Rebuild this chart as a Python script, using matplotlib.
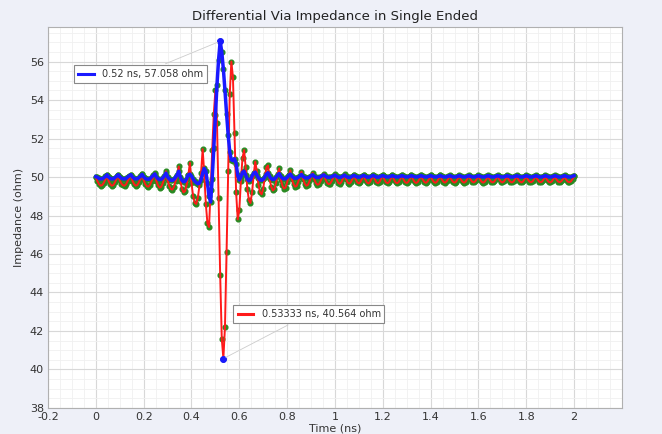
import numpy as np
import matplotlib
matplotlib.use("Agg")
import matplotlib.pyplot as plt
from matplotlib.lines import Line2D
from matplotlib.offsetbox import AnnotationBbox, DrawingArea, TextArea, HPacker

# sample spacing of the TDR trace (ns)
dt = 1 / 150

# single ended impedance, trace 1 (red)
z_red = [
    50.00, 49.78, 49.63, 49.55, 49.58, 49.70, 49.88,
    50.10, 49.80, 49.63, 49.55, 49.58, 49.72, 49.91,
    50.10, 49.83, 49.66, 49.57, 49.55, 49.63, 49.80, 49.96,
    50.10, 49.80, 49.63, 49.55, 49.58, 49.72, 49.91,
    50.15, 49.83, 49.63, 49.52, 49.50, 49.60, 49.79, 49.99,
    50.20, 49.79, 49.56, 49.45, 49.49, 49.68, 49.94,
    50.30, 49.83, 49.54, 49.38, 49.35, 49.49, 49.78, 50.06,
    50.55, 49.81, 49.40, 49.20, 49.27, 49.61, 50.08,
    50.75, 49.68, 49.03, 48.66, 48.60, 48.92, 49.57, 50.21,
    51.45, 50.20, 48.60, 47.60, 47.40, 49.30, 51.40, 53.30,
    54.50, 52.80, 48.90, 44.90, 41.60, 40.564, 42.20, 46.10, 50.30, 54.30,
    56.00, 55.20, 52.30, 49.20, 47.80, 48.30, 49.80, 51.00, 51.40, 50.50,
    49.40, 48.80, 48.65, 49.20, 50.10, 50.80, 50.30, 49.60, 49.20, 49.10,
    49.40, 50.00, 50.50,
    50.60, 49.89, 49.50, 49.30, 49.37, 49.69, 50.15,
    50.45, 49.87, 49.56, 49.40, 49.45, 49.72, 50.08,
    50.35, 49.88, 49.63, 49.50, 49.54, 49.76, 50.05,
    50.28, 49.88, 49.66, 49.55, 49.59, 49.77, 50.02,
    50.22, 49.88, 49.69, 49.60, 49.63, 49.79, 50.00,
    50.18, 49.88, 49.71, 49.63, 49.66, 49.80, 49.99,
    50.15, 49.88, 49.70, 49.65, 49.73, 49.93,
    50.14, 49.88, 49.71, 49.66, 49.73, 49.92,
    50.13, 49.88, 49.72, 49.67, 49.74, 49.92,
    50.12, 49.87, 49.72, 49.67, 49.74, 49.92,
    50.12, 49.88, 49.72, 49.68, 49.75, 49.92,
    50.11, 49.87, 49.72, 49.68, 49.74, 49.92,
    50.10, 49.87, 49.72, 49.68, 49.74, 49.91,
    50.10, 49.87, 49.73, 49.69, 49.75, 49.92,
    50.09, 49.87, 49.73, 49.69, 49.75, 49.91,
    50.09, 49.88, 49.74, 49.70, 49.76, 49.91,
    50.08, 49.87, 49.74, 49.70, 49.76, 49.91,
    50.08, 49.88, 49.75, 49.71, 49.77, 49.91,
    50.07, 49.87, 49.75, 49.71, 49.76, 49.91,
    50.07, 49.87, 49.75, 49.71, 49.76, 49.91,
    50.07, 49.88, 49.76, 49.72, 49.77, 49.91,
    50.06, 49.87, 49.75, 49.71, 49.76, 49.90,
    50.06, 49.87, 49.75, 49.72, 49.77, 49.91,
    50.06, 49.88, 49.76, 49.72, 49.77, 49.90,
    50.05, 49.87, 49.75, 49.72, 49.77, 49.90,
    50.05, 49.87, 49.76, 49.72, 49.77, 49.91,
    50.05, 49.87, 49.76, 49.73, 49.78, 49.91,
    50.05, 49.88, 49.76, 49.73, 49.77, 49.90,
    50.04, 49.86, 49.75, 49.72, 49.77, 49.90,
    50.04, 49.87, 49.76, 49.73, 49.78, 49.90,
    50.04, 49.87, 49.76, 49.73, 49.77, 49.90,
    50.03,
]

# single ended impedance, trace 2 (blue)
z_blue = [
    50.02, 49.99, 49.93, 49.90, 49.91, 49.96, 50.03,
    50.12, 50.00, 49.93, 49.90, 49.91, 49.97, 50.04,
    50.12, 50.01, 49.94, 49.91, 49.90, 49.93, 50.00, 50.07,
    50.12, 50.00, 49.93, 49.90, 49.91, 49.97, 50.04,
    50.14, 50.01, 49.93, 49.89, 49.88, 49.92, 50.00, 50.08,
    50.16, 50.00, 49.91, 49.86, 49.88, 49.95, 50.06,
    50.20, 50.01, 49.90, 49.83, 49.82, 49.88, 49.99, 50.11,
    50.30, 50.00, 49.83, 49.75, 49.78, 49.92, 50.11,
    50.15, 50.05, 49.90, 49.78, 49.70, 49.65, 49.68, 49.85,
    50.20, 50.45, 50.30, 49.70, 49.00, 48.70, 49.90, 51.50,
    53.20, 54.80, 56.10, 57.058, 56.50, 55.60, 54.50, 53.30, 52.20, 51.30,
    50.90, 50.85, 50.95, 50.70, 50.10, 49.85, 50.00, 50.25, 50.30, 50.10,
    49.90, 49.80, 49.85, 50.05, 50.20, 50.25,
    50.10, 49.95, 49.85, 49.83, 49.88, 50.00, 50.15,
    50.22, 50.03, 49.92, 49.87, 49.89, 49.98, 50.10,
    50.18, 50.03, 49.94, 49.90, 49.91, 49.98, 50.08,
    50.15, 50.03, 49.96, 49.93, 49.94, 49.98, 50.07,
    50.13, 50.03, 49.98, 49.95, 49.96, 50.00, 50.07,
    50.12, 50.04, 49.99, 49.97, 49.98, 50.02, 50.07,
    50.11, 50.04, 50.00, 49.98, 49.99, 50.02, 50.06,
    50.10, 50.03, 49.99, 49.98, 50.00, 50.05,
    50.10, 50.03, 49.99, 49.98, 50.00, 50.05,
    50.09, 50.04, 50.00, 49.99, 50.01, 50.05,
    50.09, 50.04, 50.00, 49.99, 50.01, 50.05,
    50.09, 50.04, 50.00, 49.99, 50.01, 50.05,
    50.08, 50.04, 50.01, 50.00, 50.01, 50.04,
    50.08, 50.04, 50.01, 50.00, 50.01, 50.04,
    50.08, 50.04, 50.01, 50.00, 50.01, 50.04,
    50.08, 50.04, 50.01, 50.00, 50.01, 50.04,
    50.08, 50.04, 50.01, 50.00, 50.01, 50.04,
    50.08, 50.04, 50.01, 50.00, 50.01, 50.04,
    50.08, 50.04, 50.01, 50.00, 50.01, 50.04,
    50.08, 50.04, 50.01, 50.00, 50.01, 50.04,
    50.08, 50.04, 50.01, 50.00, 50.01, 50.04,
    50.08, 50.04, 50.01, 50.00, 50.01, 50.04,
    50.08, 50.04, 50.01, 50.00, 50.01, 50.04,
    50.08, 50.04, 50.01, 50.00, 50.01, 50.04,
    50.08, 50.04, 50.01, 50.00, 50.01, 50.04,
    50.08, 50.04, 50.01, 50.00, 50.01, 50.04,
    50.08, 50.04, 50.01, 50.00, 50.01, 50.04,
    50.08, 50.04, 50.01, 50.00, 50.01, 50.04,
    50.08, 50.04, 50.01, 50.00, 50.01, 50.04,
    50.08, 50.04, 50.01, 50.00, 50.01, 50.04,
    50.08, 50.04, 50.01, 50.00, 50.01, 50.04,
    50.08, 50.04, 50.01, 50.00, 50.01, 50.04,
    50.07,
]

# marker readouts
max_t, max_z = 0.52, 57.058
min_t, min_z = 0.53333, 40.564

x_ticks = [-0.2, 0, 0.2, 0.4, 0.6, 0.8, 1, 1.2, 1.4, 1.6, 1.8, 2]
x_ticklabels = ["-0.2", "0", "0.2", "0.4", "0.6", "0.8", "1", "1.2", "1.4", "1.6", "1.8", "2"]
y_ticks = [38, 40, 42, 44, 46, 48, 50, 52, 54, 56]

t = np.arange(len(z_red)) * dt

fig = plt.figure(figsize=(6.62, 4.34), dpi=100, facecolor="#eef0f8")
ax = fig.add_axes([0.0725, 0.06, 0.867, 0.878])
ax.set_facecolor("white")

# green sample dots under the lines
ax.plot(t, z_red, linestyle="None", marker="o", markersize=3.4, color="#2a8a22", zorder=2)
ax.plot(t, z_blue, linestyle="None", marker="o", markersize=3.4, color="#2a8a22", zorder=2)
ax.plot(t, z_red, color="#ff1a1a", linewidth=1.4, zorder=3)
ax.plot(t, z_blue, color="#1a1aff", linewidth=2.5, zorder=4)

# marker points
ax.plot([max_t, min_t], [max_z, min_z], linestyle="None", marker="o", markersize=4,
        color="#1a1aff", zorder=5)

def readout(text, color, xy, xybox):
    da = DrawingArea(14, 8, 0, 0)
    da.add_artist(Line2D([1, 12], [4, 4], color=color, linewidth=2.2))
    ta = TextArea(text, textprops=dict(fontsize=7, color="#333333"))
    box = HPacker(children=[da, ta], align="center", pad=0, sep=4)
    ab = AnnotationBbox(box, xy, xybox=xybox, xycoords="data", boxcoords="data",
                        pad=0.25, bboxprops=dict(edgecolor="#888888", facecolor="white", linewidth=0.8),
                        arrowprops=dict(arrowstyle="-", color="#cccccc", linewidth=0.6),
                        zorder=6)
    ax.add_artist(ab)

readout(f"{max_t} ns, {max_z} ohm", "#1a1aff", (max_t, max_z), (0.185, 55.34))
readout(f"{min_t} ns, {min_z} ohm", "#ff1a1a", (min_t, min_z), (0.89, 42.87))

ax.set_xlim(-0.2, 2.19)
ax.set_ylim(38, 57.8)
ax.set_xticks(x_ticks)
ax.set_xticklabels(x_ticklabels)
ax.set_yticks(y_ticks)
ax.set_xticks(np.arange(-0.2, 2.2, 0.05), minor=True)
ax.set_yticks(np.arange(38, 58, 0.5), minor=True)
ax.tick_params(which="both", length=0, labelsize=8, labelcolor="#333333")
ax.tick_params(axis="x", pad=3)
ax.tick_params(axis="y", pad=3)
ax.grid(which="major", color="#d8d8d8", linewidth=0.8)
ax.grid(which="minor", color="#f0f0f0", linewidth=0.6)
ax.set_axisbelow(True)
for s in ax.spines.values():
    s.set_color("#b0b0b0")

ax.set_title("Differential Via Impedance in Single Ended", fontsize=9.5, color="#222222", pad=5)
ax.set_xlabel("Time (ns)", fontsize=8, color="#333333", labelpad=1)
ax.set_ylabel("Impedance (ohm)", fontsize=8, color="#333333", labelpad=4)

fig.savefig("out.png", dpi=100, facecolor=fig.get_facecolor())
